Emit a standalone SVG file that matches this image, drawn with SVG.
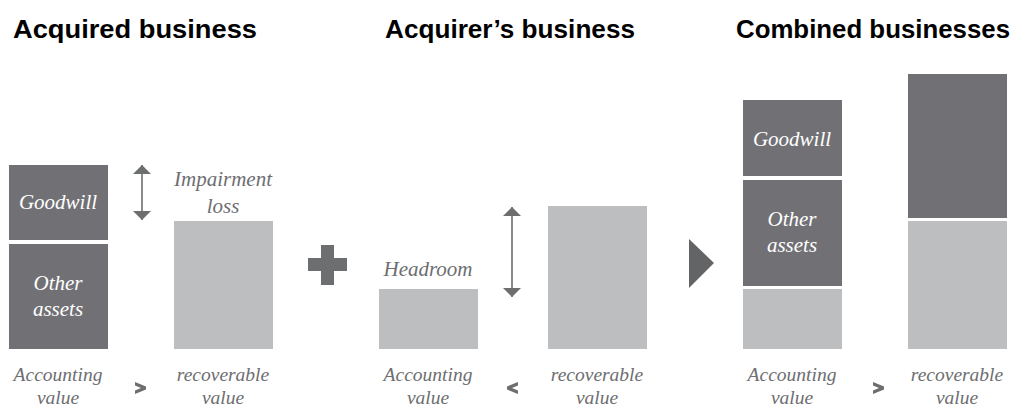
<svg xmlns="http://www.w3.org/2000/svg" width="1014" height="408" viewBox="0 0 1014 408">
<style>
.title{font-family:"Liberation Sans",Arial,sans-serif;font-weight:bold;font-size:25px;fill:#000;text-anchor:middle}
.lbl{font-family:"Liberation Serif","Times New Roman",serif;font-style:italic;font-size:21px;fill:#6d6e71;text-anchor:middle}
.bot{font-size:19.5px}
.in{font-family:"Liberation Serif","Times New Roman",serif;font-style:italic;font-size:21px;fill:#ffffff;text-anchor:middle}
.dark{fill:#717175}
.light{fill:#bdbec0}
.sym{fill:#6d6e70}
.arr{stroke:#6d6e70;stroke-width:1.6;fill:none}
</style>
<defs>
<marker id="ah" viewBox="0 0 9 18" refX="9" refY="9" markerWidth="9" markerHeight="18" markerUnits="userSpaceOnUse" orient="auto-start-reverse">
<path d="M0,0 L9,9 L0,18 Z" fill="#6d6e70"/>
</marker>
</defs>
<g id="titles">
<text class="title" x="135" y="38" textLength="244" lengthAdjust="spacingAndGlyphs">Acquired business</text>
<text class="title" x="510" y="38" textLength="250" lengthAdjust="spacingAndGlyphs">Acquirer’s business</text>
<text class="title" x="873" y="38" textLength="274" lengthAdjust="spacingAndGlyphs">Combined businesses</text>
</g>
<g id="acquired-goodwill"><rect class="dark" x="9" y="165" width="99" height="75"/><text class="in" x="58" y="209">Goodwill</text></g>
<g id="acquired-other"><rect class="dark" x="9" y="244" width="99" height="105"/><text class="in" x="58" y="290">Other</text><text class="in" x="58" y="316">assets</text></g>
<g id="acquired-recoverable"><rect class="light" x="174" y="221" width="99" height="128"/></g>
<g id="impairment-label"><text class="lbl" x="223" y="186">Impairment</text><text class="lbl" x="223" y="213">loss</text></g>
<g id="plus"><path class="sym" d="M321,245 h13 v13 h13 v13 h-13 v14 h-13 v-14 h-13 v-13 h13 Z"/></g>
<g id="acquirer-accounting"><rect class="light" x="379" y="289" width="99" height="60"/><text class="lbl" x="428" y="276">Headroom</text></g>
<g id="acquirer-recoverable"><rect class="light" x="548" y="206" width="99" height="143"/></g>
<g id="triangle"><path d="M689,239 L714,263 L689,288 Z" fill="#636466"/></g>
<g id="combined-goodwill"><rect class="dark" x="743" y="100" width="99" height="76"/><text class="in" x="792" y="146">Goodwill</text></g>
<g id="combined-other"><rect class="dark" x="743" y="180" width="99" height="106"/><text class="in" x="792" y="226">Other</text><text class="in" x="792" y="252">assets</text></g>
<g id="combined-light"><rect class="light" x="743" y="289" width="99" height="60"/></g>
<g id="combined-recoverable"><rect class="dark" x="908" y="74" width="99" height="144"/><rect class="light" x="908" y="221" width="99" height="128"/></g>
<g id="connectors">
<line class="arr" x1="142" y1="165" x2="142" y2="220" marker-start="url(#ah)" marker-end="url(#ah)"/>
<line class="arr" x1="512" y1="207" x2="512" y2="297" marker-start="url(#ah)" marker-end="url(#ah)"/>
</g>
<g id="bottom-labels">
<text class="lbl bot" x="58" y="381">Accounting</text><text class="lbl bot" x="58" y="403.5">value</text>
<text class="lbl bot" x="223" y="381">recoverable</text><text class="lbl bot" x="223" y="403.5">value</text>
<text class="lbl bot" x="428" y="381">Accounting</text><text class="lbl bot" x="428" y="403.5">value</text>
<text class="lbl bot" x="597" y="381">recoverable</text><text class="lbl bot" x="597" y="403.5">value</text>
<text class="lbl bot" x="792" y="381">Accounting</text><text class="lbl bot" x="792" y="403.5">value</text>
<text class="lbl bot" x="957" y="381">recoverable</text><text class="lbl bot" x="957" y="403.5">value</text>
<path class="sym" d="M135,382 L146,386.5 L146,389.5 L135,394 L135,390.5 L141,388 L135,385.5 Z"/>
<path class="sym" d="M518,382 L507,386.5 L507,389.5 L518,394 L518,390.5 L512,388 L518,385.5 Z"/>
<path class="sym" d="M873,382 L884,386.5 L884,389.5 L873,394 L873,390.5 L879,388 L873,385.5 Z"/>
</g>
</svg>
